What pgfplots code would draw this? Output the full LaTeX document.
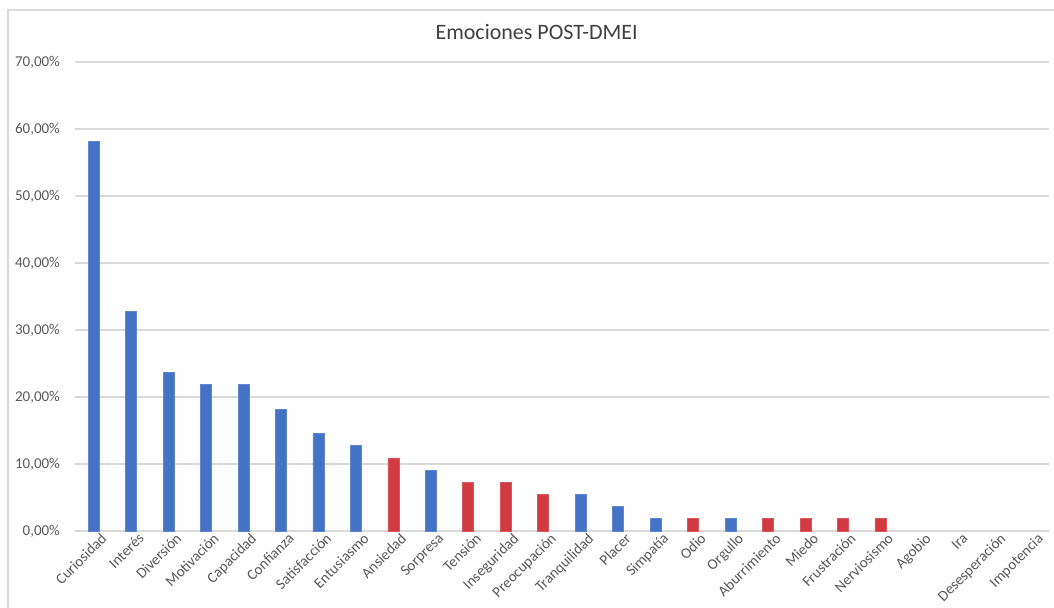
\documentclass[border=0pt]{standalone}
\usepackage{fontspec}
\setmainfont{Carlito}
\usepackage{pgfplots}
\pgfplotsset{compat=1.18}

\definecolor{exblue}{RGB}{68,114,196}
\definecolor{exred}{RGB}{209,58,64}
\definecolor{gridgray}{RGB}{217,217,217}
\definecolor{labgray}{RGB}{89,89,89}

\begin{document}
\begin{tikzpicture}
\useasboundingbox (-37.5pt,-38pt) rectangle (489.5pt,265.5pt);
\draw[gridgray, line width=0.6pt] (-33.5pt,-40pt) -- (-33.5pt,260.5pt) -- (492pt,260.5pt);
\begin{axis}[
  at={(0,0)}, anchor=south west,
  scale only axis, width=487pt, height=234.5pt,
  ybar, bar width=5.5pt, bar shift=0pt,
  xmin=-0.5, xmax=25.5, ymin=0, ymax=70,
  axis x line*=bottom, axis y line*=left,
  x axis line style={gridgray, line width=0.7pt, -},
  y axis line style={draw=none},
  ymajorgrids, grid style={gridgray, line width=0.7pt},
  major tick length=0pt,
  ytick={0,10,20,30,40,50,60,70},
  yticklabels={{0,00\%},{10,00\%},{20,00\%},{30,00\%},{40,00\%},{50,00\%},{60,00\%},{70,00\%}},
  y tick label style={font=\fontsize{7.5}{8}\selectfont, text=labgray, anchor=east, xshift=-4pt},
  xtick={0,...,25},
  xticklabels={Curiosidad, Interés, Diversión, Motivación, Capacidad, Confianza,
    Satisfacción, Entusiasmo, Ansiedad, Sorpresa, Tensión, Inseguridad,
    Preocupación, Tranquilidad, Placer, Simpatía, Odio, Orgullo, Aburrimiento,
    Miedo, Frustración, Nerviosismo, Agobio, Ira, Desesperación, Impotencia},
  x tick label style={font=\fontsize{7.5}{8}\selectfont, text=labgray, rotate=45,
    anchor=north east, inner sep=1pt, xshift=3pt, yshift=-1.5pt},
  /pgf/number format/assume math mode=true,
  every axis title shift=0pt,
  title={Emociones POST-DMEI},
  title style={font=\fontsize{11}{12}\selectfont, text=black!75,
    at={(rel axis cs:0.474,1.064)}, anchor=center, yshift=0pt},
]
\addplot[fill=exblue, draw=exblue!85!white] coordinates
  {(0,58.18) (1,32.73) (2,23.64) (3,21.82) (4,21.82) (5,18.18) (6,14.55)
   (7,12.73) (9,9.09) (13,5.45) (14,3.64) (15,1.82) (17,1.82)};
\addplot[fill=exred, draw=exred!85!white] coordinates
  {(8,10.91) (10,7.27) (11,7.27) (12,5.45) (16,1.82) (18,1.82) (19,1.82)
   (20,1.82) (21,1.82)};
\end{axis}
\end{tikzpicture}
\end{document}
